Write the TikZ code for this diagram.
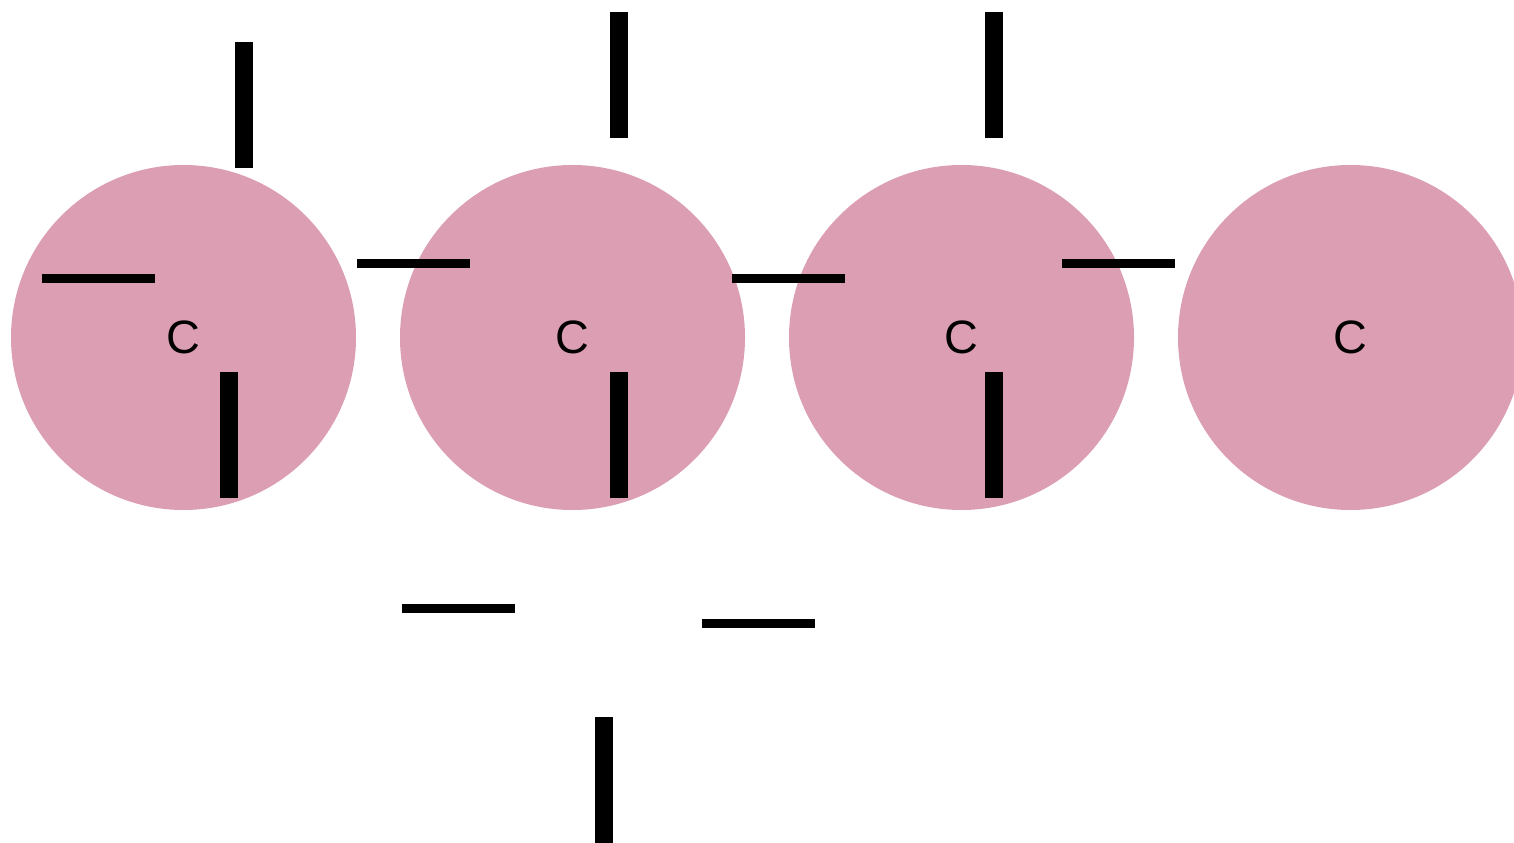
\documentclass[tikz,border=0pt]{standalone}
\usepackage{fontspec}
\setmainfont{Liberation Sans}
\definecolor{atompink}{RGB}{219,158,178}
\begin{document}
\begin{tikzpicture}[x=1bp,y=-1bp,
  atom/.style={circle,fill=atompink,draw=none,minimum size=345bp,inner sep=0pt,
    font=\fontsize{47}{47}\selectfont},
  bar/.style={rectangle,fill=black,draw=none,inner sep=0pt}]
\useasboundingbox (0,0) rectangle (1514,842);
\clip (0,0) rectangle (1514,842);
\node[atom] (c1) at (183.5,337.5) {C};
\node[atom] (c2) at (572.5,337.5) {C};
\node[atom] (c3) at (961.5,337.5) {C};
\node[atom] (c4) at (1350.5,337.5) {C};
% vertical bars (18 x 126)
\node[bar,minimum width=18bp,minimum height=126bp] (b1) at (244,105) {};
\node[bar,minimum width=18bp,minimum height=126bp] (b3) at (229,435) {};
\node[bar,minimum width=18bp,minimum height=126bp] (b5) at (619,75) {};
\node[bar,minimum width=18bp,minimum height=126bp] (b6) at (619,435) {};
\node[bar,minimum width=18bp,minimum height=126bp] (b8) at (994,75) {};
\node[bar,minimum width=18bp,minimum height=126bp] (b9) at (994,435) {};
\node[bar,minimum width=18bp,minimum height=126bp] (b13) at (604,780) {};
% horizontal bars (113 x 9)
\node[bar,minimum width=113bp,minimum height=9bp] (b2) at (98.5,278.5) {};
\node[bar,minimum width=113bp,minimum height=9bp] (b4) at (413.5,263.5) {};
\node[bar,minimum width=113bp,minimum height=9bp] (b7) at (788.5,278.5) {};
\node[bar,minimum width=113bp,minimum height=9bp] (b10) at (1118.5,263.5) {};
\node[bar,minimum width=113bp,minimum height=9bp] (b11) at (458.5,608.5) {};
\node[bar,minimum width=113bp,minimum height=9bp] (b12) at (758.5,623.5) {};
\end{tikzpicture}
\end{document}
